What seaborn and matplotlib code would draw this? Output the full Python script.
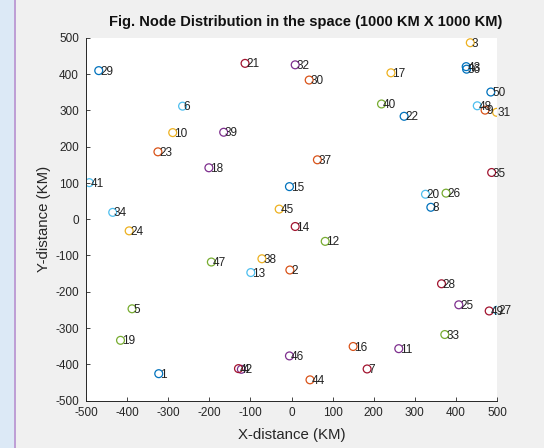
import matplotlib
matplotlib.use("Agg")
import matplotlib.pyplot as plt
import seaborn as sns
import pandas as pd
from matplotlib.patches import Rectangle
from matplotlib.lines import Line2D

node_ids = list(range(1, 51))
x_km = [-323, -4, 435, -122, -388, -265, 184, 339, 471, -289,
        261, 82, -99, 9, -5, 150, 242, -201, -416, 326,
        -113, 274, -325, -395, 407, 376, 500, 365, -469, 43,
        499, 9, 373, -435, 487, 426, 63, -72, -165, 219,
        -492, -129, 425, 45, -30, -5, -195, 452, 481, 485]
y_km = [-426, -140, 487, -414, -247, 312, -413, 33, 301, 239,
        -357, -61, -147, -20, 90, -351, 404, 142, -334, 69,
        430, 284, 186, -32, -236, 72, -251, -178, 410, 384,
        295, 426, -318, 19, 129, 414, 164, -109, 240, 318,
        101, -412, 421, -443, 28, -377, -118, 313, -253, 351]

matlab_colors = ["#0072BD", "#D95319", "#EDB120", "#7E2F8E",
                 "#77AC30", "#4DBEEE", "#A2142F"]

df = pd.DataFrame({"x": x_km, "y": y_km, "node": [str(n) for n in node_ids]})
palette = {str(n): matlab_colors[(n - 1) % 7] for n in node_ids}

sns.set_style("white")
plt.rcParams["font.family"] = ["Liberation Sans", "DejaVu Sans"]
plt.rcParams["axes.unicode_minus"] = False

fig = plt.figure(figsize=(5.44, 4.48), dpi=100)
fig.patch.set_facecolor("#F0F0F0")

# left decorative strip from screenshot
fig.patches.append(Rectangle((0, 0), 14 / 544, 1, transform=fig.transFigure,
                             facecolor="#DCE9F6", edgecolor="none", zorder=0))
fig.lines.append(Line2D([14.5 / 544, 14.5 / 544], [0, 1], transform=fig.transFigure,
                        color="#B58FD0", lw=1.2))

ax = fig.add_axes([86 / 544, 1 - 400.5 / 448, 411 / 544, 362.5 / 448])
ax.set_facecolor("white")

sns.scatterplot(data=df, x="x", y="y", hue="node", palette=palette,
                s=32, marker="o", linewidth=0.9, legend=False, ax=ax)
coll = ax.collections[0]
fc = coll.get_facecolors()
coll.set_edgecolors(fc)
coll.set_facecolors("none")

for xi, yi, n in zip(x_km, y_km, node_ids):
    ax.text(xi + 3, yi - 3, str(n), ha="left", va="center", fontsize=8.5,
            color="#222222")

ax.set_xlim(-500, 500)
ax.set_ylim(-500, 500)
ax.set_xticks(range(-500, 501, 100))
ax.set_yticks(range(-500, 501, 100))
ax.tick_params(direction="in", length=3, width=0.6, colors="#262626",
               labelsize=8.5, pad=5, bottom=True, left=True)
for side in ["top", "right"]:
    ax.spines[side].set_visible(False)
for side in ["left", "bottom"]:
    ax.spines[side].set_color("#262626")
    ax.spines[side].set_linewidth(0.7)

ax.set_xlabel("X-distance (KM)", fontsize=10.8, color="#262626", labelpad=6)
ax.set_ylabel("Y-distance (KM)", fontsize=10.8, color="#262626", labelpad=3)
fig.text(306 / 544, 1 - 22 / 448,
         "Fig. Node Distribution in the space (1000 KM X 1000 KM)",
         fontsize=10.5, fontweight="bold", color="#111111",
         ha="center", va="center")

fig.savefig("out.png", dpi=100, facecolor=fig.get_facecolor())
